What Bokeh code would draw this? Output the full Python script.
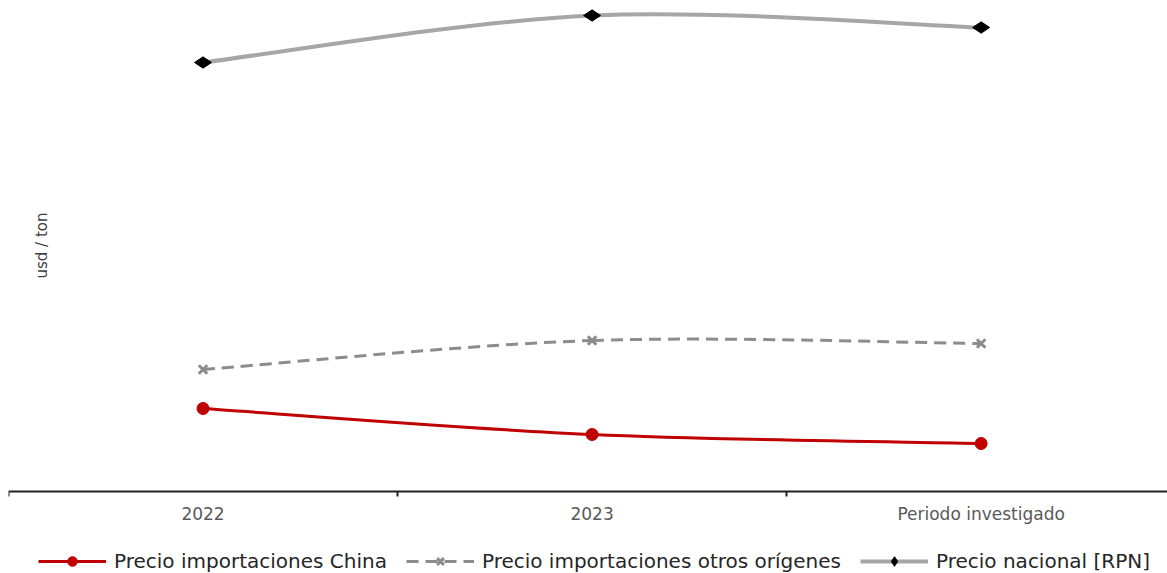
from bokeh.plotting import figure
from bokeh.models import Range1d, FixedTicker, Legend, LegendItem, Label, ColumnDataSource, LinearAxis
from bokeh.embed import file_html
from bokeh.resources import INLINE
import math

categories = ["2022", "2023", "Periodo investigado"]
china = [415, 285, 240]
otros = [610, 755, 740]
rpn = [2145, 2380, 2320]

FONT = "DejaVu Sans"
xs = [i + 0.5 for i in range(len(categories))]

p = figure(width=1167, height=573, output_backend="svg", toolbar_location=None,
           x_range=Range1d(0, 2.979), y_range=Range1d(-410, 2455),
           x_axis_location=None, y_axis_location=None,
           min_border_left=8, min_border_right=0, min_border_top=0, min_border_bottom=0)
p.outline_line_color = None
p.grid.visible = False

ax = LinearAxis(fixed_location=0)
ax.ticker = FixedTicker(ticks=xs, minor_ticks=[0, 1, 2, 3])
ax.major_label_overrides = {x: c for x, c in zip(xs, categories)}
ax.major_tick_out = 0
ax.major_tick_in = 0
ax.minor_tick_out = 5
ax.minor_tick_in = 0
ax.minor_tick_line_color = "#222222"
ax.minor_tick_line_width = 2
ax.axis_line_color = "#222222"
ax.axis_line_width = 2
ax.major_label_text_font = FONT
ax.major_label_text_font_size = "17px"
ax.major_label_text_color = "#595959"
ax.major_label_standoff = 7
p.add_layout(ax, "below")


def smooth(ys):
    n = len(ys)
    d = dict(x0=[], y0=[], x1=[], y1=[], cx0=[], cy0=[], cx1=[], cy1=[])
    for i in range(n - 1):
        a = max(i - 1, 0)
        b = min(i + 2, n - 1)
        d["x0"].append(xs[i]); d["y0"].append(ys[i])
        d["x1"].append(xs[i + 1]); d["y1"].append(ys[i + 1])
        d["cx0"].append(xs[i] + (xs[i + 1] - xs[a]) / 6)
        d["cy0"].append(ys[i] + (ys[i + 1] - ys[a]) / 6)
        d["cx1"].append(xs[i + 1] - (xs[b] - xs[i]) / 6)
        d["cy1"].append(ys[i + 1] - (ys[b] - ys[i]) / 6)
    return ColumnDataSource(d)


series = [
    ("Precio importaciones China", china, dict(line_color="#C00000", line_width=3),
     dict(marker="circle", size=12, fill_color="#C00000", line_color="#C00000")),
    ("Precio importaciones otros orígenes", otros, dict(line_color="#8C8C8C", line_width=3, line_dash="12 7"),
     dict(marker="x", size=12, line_color="#8C8C8C", line_width=3)),
    ("Precio nacional [RPN]", rpn, dict(line_color="#A6A6A6", line_width=4),
     dict(marker="diamond", size=17, angle=math.pi / 2, fill_color="#000000", line_color="#000000")),
]

items = []
for name, ys, lstyle, mstyle in series:
    b = p.bezier(x0="x0", y0="y0", x1="x1", y1="y1", cx0="cx0", cy0="cy0", cx1="cx1", cy1="cy1",
                 source=smooth(ys), **lstyle)
    m = p.scatter(x=xs, y=ys, **mstyle)
    items.append(LegendItem(label=name, renderers=[b, m]))

legend = Legend(items=items, orientation="horizontal", location=(30, 0),
                label_text_font=FONT, label_text_font_size="20px", label_text_color="#262626",
                glyph_width=68, glyph_height=24, spacing=19, label_standoff=8,
                padding=0, margin=0, border_line_color=None, background_fill_alpha=0)
p.add_layout(legend)

p.add_layout(Label(x=33, y=328, x_units="screen", y_units="screen", text="usd / ton",
                   angle=math.pi / 2, text_font=FONT, text_font_size="15px",
                   text_color="#404040", text_align="center", text_baseline="middle"))

open("out.html", "w").write(file_html(p, INLINE))
